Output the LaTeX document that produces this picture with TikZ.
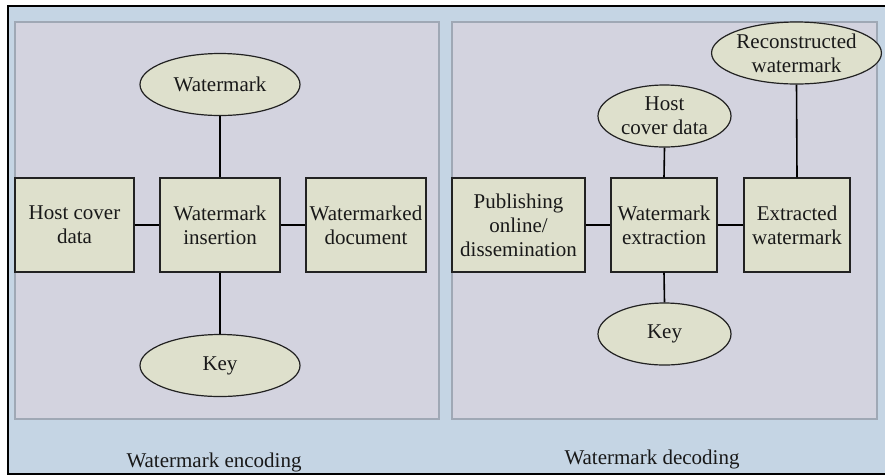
\documentclass[tikz,border=0pt]{standalone}
\usepackage{fontspec}
\setmainfont{Liberation Serif}
\usetikzlibrary{shapes.geometric}
\definecolor{frameblue}{HTML}{C5D5E4}
\definecolor{panelgray}{HTML}{D3D3DF}
\definecolor{panelline}{HTML}{9FA8B5}
\definecolor{nodefill}{HTML}{DEE0CC}
\definecolor{inkline}{HTML}{222222}
\tikzset{
  txt/.style={font=\fontsize{21}{24}\selectfont, align=center, text=black!90},
  blockbox/.style={txt, rectangle, draw=inkline, line width=1.2pt, fill=nodefill, inner sep=0pt, minimum height=94pt},
  bubble/.style={txt, ellipse, draw=inkline, line width=1.2pt, fill=nodefill, inner sep=0pt, minimum height=62pt},
  link/.style={draw=black, line width=1.6pt},
  panel/.style={draw=panelline, line width=1.4pt, fill=panelgray},
  caption/.style={font=\fontsize{21}{25}\selectfont, text=black!90, anchor=base}
}
\begin{document}
\begin{tikzpicture}[x=1pt, y=-1pt]
\useasboundingbox (0,0) rectangle (885,475);
% outer frame (its right side runs past the page edge) and the two panels
\draw[fill=frameblue, draw=black, line width=1.2pt] (8,6) rectangle (892,474);
\draw[panel] (15,22) rectangle (439,419);
\draw[panel] (452,22) rectangle (877,419);

% encoding side
\node[bubble, minimum width=160pt] (wm) at (220,84.5) {Watermark};
\node[blockbox, minimum width=119pt] (host) at (74.5,225) {Host cover\\data};
\node[blockbox, minimum width=120pt] (ins) at (220,225) {Watermark\\insertion};
\node[blockbox, minimum width=120pt] (doc) at (366,225) {Watermarked\\document};
\node[bubble, minimum width=160pt] (key1) at (220,365.5) {Key};
\draw[link] (wm.south) -- (ins.north);
\draw[link] (host.east) -- (ins.west);
\draw[link] (ins.east) -- (doc.west);
\draw[link] (ins.south) -- (key1.north);
\node[caption] (enc) at (214,467) {Watermark encoding};

% decoding side
\node[bubble, minimum width=159pt] (recon) at (796.5,53) {Reconstructed\\watermark};
\node[bubble, minimum width=133pt] (hostc) at (664.5,116) {Host\\cover data};
\node[blockbox, minimum width=133pt] (pub) at (518.5,225) {Publishing\\online/\\dissemination};
\node[blockbox, minimum width=106pt] (ext) at (664,225) {Watermark\\extraction};
\node[blockbox, minimum width=106pt] (exw) at (797,225) {Extracted\\watermark};
\node[bubble, minimum width=133pt] (key2) at (664.5,334) {Key};
\draw[link] (pub.east) -- (ext.west);
\draw[link] (ext.east) -- (exw.west);
\draw[link] (hostc.south) -- (ext.north);
\draw[link] (ext.south) -- (key2.north);
\draw[link] (recon.south) -- (exw.north);
\node[caption] (dec) at (652,464) {Watermark decoding};
\end{tikzpicture}
\end{document}
